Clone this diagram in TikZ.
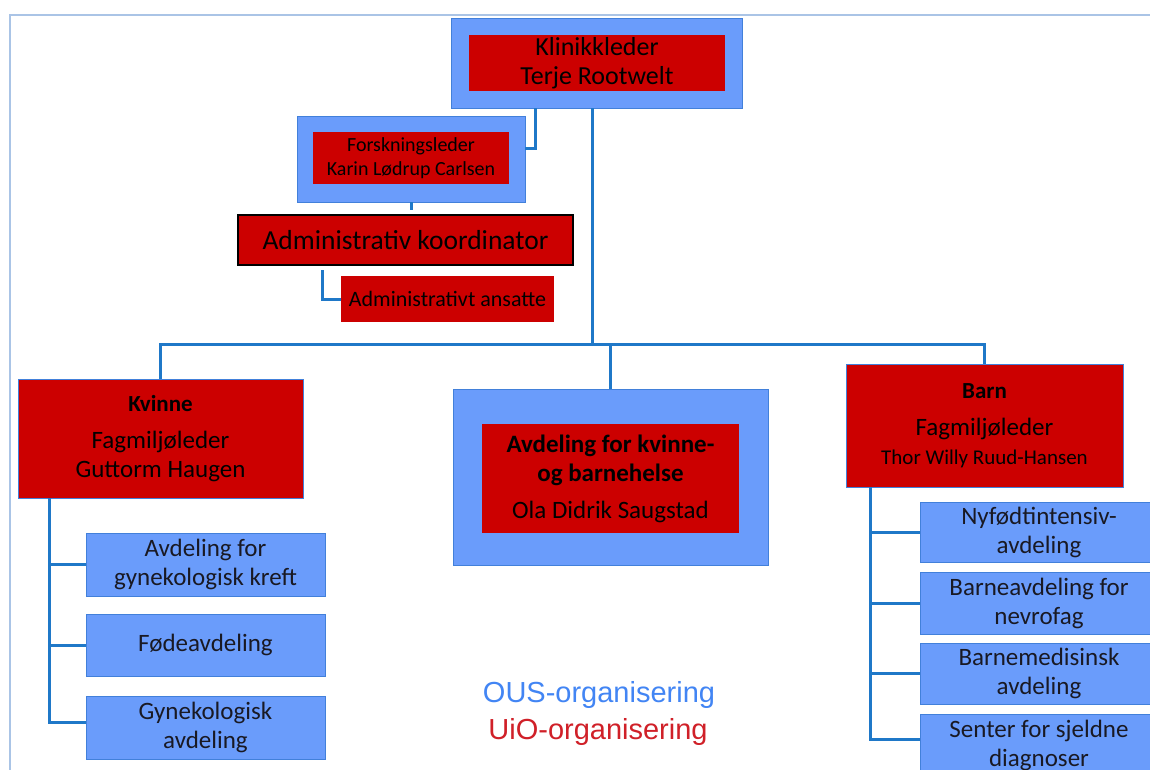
\documentclass[tikz,border=0pt]{standalone}
\usepackage{fontspec}
\setmainfont{Carlito}
\newfontfamily\legendfont{Liberation Sans}
\usetikzlibrary{calc}
\definecolor{redbox}{RGB}{204,0,0}
\definecolor{bluebox}{RGB}{106,156,251}
\definecolor{blueedge}{RGB}{66,128,218}
\definecolor{connc}{RGB}{31,120,200}
\definecolor{framec}{RGB}{170,196,230}
\definecolor{ousblue}{RGB}{66,133,244}
\definecolor{uiored}{RGB}{208,32,40}
\definecolor{darktext}{RGB}{25,25,35}
\begin{document}
\begin{tikzpicture}[x=1pt,y=-1pt,
  box/.style={rectangle, anchor=north west, inner sep=0pt, outer sep=0pt, align=center, text=black},
  bluebg/.style={box, fill=bluebox, draw=blueedge, line width=1pt, text=darktext},
  redbg/.style={box, fill=redbox},
  redblue/.style={box, fill=redbox, draw=blueedge, line width=1pt},
  conn/.style={draw=connc, line width=3pt, line join=miter},
  fbig/.style={font=\fontsize{25}{29}\selectfont},
  fsmall/.style={font=\fontsize{20}{24}\selectfont},
  fmid/.style={font=\fontsize{22}{26}\selectfont},
  legendtxt/.style={font=\legendfont\fontsize{29}{34}\selectfont, anchor=center, inner sep=0pt}
]
\useasboundingbox (0,0) rectangle (1150,769);
\clip (0,0) rectangle (1150,769);
\fill[white] (0,0) rectangle (1150,769);

% frame
\draw[framec, line width=2pt] (10,775) -- (10,15) -- (1160,15);

% top
\node[bluebg, minimum width=291pt, minimum height=90pt] (klin) at (451,18) {};
\node[redbg, font=\fontsize{26}{29}\selectfont, minimum width=256pt, minimum height=56pt] (klinin) at (469,35) {Klinikkleder\\Terje Rootwelt};

\node[bluebg, minimum width=228pt, minimum height=86pt] (forsk) at (297,116) {};
\node[redbg, fsmall, minimum width=196pt, minimum height=52pt] (forskin) at (313,132) {Forskningsleder\\Karin Lødrup Carlsen};

\node[redbg, font=\fontsize{27.5}{31}\selectfont, draw=black, line width=1.2pt, minimum width=335pt, minimum height=50pt] (admk) at (238,215) {Administrativ koordinator};
\node[redbg, fmid, minimum width=213pt, minimum height=46pt] (adma) at (341,276) {Administrativt ansatte};

% middle level
\node[redblue, fbig, minimum width=285pt, minimum height=119pt] (kvinne) at (18,379)
  {\textbf{\fontsize{23}{27}\selectfont Kvinne}\\[8pt]Fagmiljøleder\\Guttorm Haugen};
\node[bluebg, minimum width=315pt, minimum height=176pt] (avd) at (453,389) {};
\node[redbg, fbig, minimum width=257pt, minimum height=109pt] (avdin) at (482,424)
  {\textbf{Avdeling for kvinne-}\\\textbf{og barnehelse}\\[8pt]Ola Didrik Saugstad};
\node[redblue, fbig, minimum width=277pt, minimum height=123pt] (barn) at (846,364)
  {\textbf{\fontsize{23}{27}\selectfont Barn}\\[8pt]Fagmiljøleder\\\fontsize{21}{25}\selectfont Thor Willy Ruud-Hansen};

% Kvinne children
\node[bluebg, fbig, minimum width=239pt, minimum height=63pt] (kc1) at (86,533) {Avdeling for\\gynekologisk kreft};
\node[bluebg, fbig, minimum width=239pt, minimum height=62pt] (kc2) at (86,614) {Fødeavdeling};
\node[bluebg, fbig, minimum width=239pt, minimum height=63pt] (kc3) at (86,696) {Gynekologisk\\avdeling};

% Barn children
\node[bluebg, fbig, minimum width=238pt, minimum height=60pt] (bc1) at (920,502) {Nyfødtintensiv-\\avdeling};
\node[bluebg, fbig, minimum width=238pt, minimum height=62pt] (bc2) at (920,572) {Barneavdeling for\\nevrofag};
\node[bluebg, fbig, minimum width=238pt, minimum height=61pt] (bc3) at (920,643) {Barnemedisinsk\\avdeling};
\node[bluebg, fbig, minimum width=238pt, minimum height=62pt] (bc4) at (920,714) {Senter for sjeldne\\diagnoser};

% legend
\node[legendtxt, text=ousblue] (ous) at (599,695) {OUS-organisering};
\node[legendtxt, text=uiored] (uio) at (598,732) {UiO-organisering};

% connectors
\coordinate (bus) at (592,344);
\coordinate (kf) at (535,0);
\coordinate (kv) at (49,0);
\coordinate (bv) at (870,0);
\draw[conn] (klin.south -| bus) -- (bus);
\draw[conn] (kvinne.north) |- (bus) -| (barn.north);
\draw[conn] (avd.north) -- (avd.north |- bus);
\draw[conn] (klin.south -| kf) |- ($(forsk.north east)+(0,32)$);
\draw[conn] (forsk.south) -- ($(forsk.south)+(0,8)$);
\draw[conn] ($(admk.south west)+(84,5)$) |- (adma.west);

\coordinate (kb3) at ($(kc3.west)+(0,-5)$);
\draw[conn] (kvinne.south -| kv) |- (kb3);
\draw[conn] (kc1.west -| kv) -- (kc1.west);
\draw[conn] (kc2.west -| kv) -- (kc2.west);

\coordinate (bb4) at ($(bc4.west)+(0,-6)$);
\draw[conn] (barn.south -| bv) |- (bb4);
\draw[conn] (bc1.west -| bv) -- (bc1.west);
\draw[conn] (bc2.west -| bv) -- (bc2.west);
\draw[conn] (bc3.west -| bv) -- (bc3.west);
\end{tikzpicture}
\end{document}
